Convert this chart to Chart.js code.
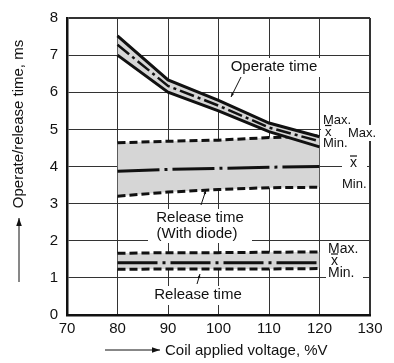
<!DOCTYPE html>
<html>
<head>
<meta charset="utf-8">
<script src="https://cdn.jsdelivr.net/npm/chart.js@4"></script>
<style>
  html, body { margin: 0; padding: 0; background: #fff; }
  #wrap { width: 394px; height: 363px; }
</style>
</head>
<body>
<div id="wrap"><canvas id="myChart"></canvas></div>
<script>
const voltage = [80, 90, 100, 110, 120];
// operate time
const opMax  = [7.52, 6.33, 5.78, 5.17, 4.80];
const opMean = [7.28, 6.17, 5.64, 5.05, 4.68];
const opMin  = [7.00, 6.00, 5.50, 4.94, 4.53];
// release time with diode
const dMax  = [4.64, 4.68, 4.71, 4.78, 4.82];
const dMean = [3.87, 3.92, 3.95, 3.98, 4.00];
const dMin  = [3.20, 3.31, 3.38, 3.43, 3.44];
// release time
const rMax  = [1.66, 1.68, 1.68, 1.69, 1.70];
const rMean = [1.41, 1.41, 1.41, 1.41, 1.41];
const rMin  = [1.23, 1.24, 1.24, 1.24, 1.25];

const xTicks = [70, 80, 90, 100, 110, 120, 130];
const yTicks = [0, 1, 2, 3, 4, 5, 6, 7, 8];

const FONT = '"Liberation Sans", Arial, Helvetica, sans-serif';
const BAND = '#d6d6d6';

function pts(arr) {
	return voltage.map((v, i) => ({ x: v, y: arr[i] }));
}

function line(arr, dash, width, fill) {
	return {
		data: pts(arr),
		borderColor: '#111',
		borderWidth: width,
		borderDash: dash,
		borderCapStyle: 'butt',
		pointRadius: 0,
		tension: 0,
		fill: fill === undefined ? false : { target: fill },
		backgroundColor: BAND
	};
}

const dashed = [8, 4];

const datasets = [
	line(opMax, [], 3),
	line(opMean, [15, 4, 3, 4], 2.5),
	line(opMin, [], 3, 0),
	line(dMax, dashed, 3),
	line(dMean, [42, 5, 3, 5], 3),
	line(dMin, dashed, 3, 3),
	line(rMax, dashed, 3),
	line(rMean, [40, 5, 3, 5], 3),
	line(rMin, dashed, 3, 6)
];

// text labels with white backing
function box(c, x0, y0, x1, y1) {
	c.fillStyle = '#fff';
	c.fillRect(x0, y0, x1 - x0, y1 - y0);
}
function txt(c, s, x, y, size, align) {
	c.font = size + 'px ' + FONT;
	c.fillStyle = '#111';
	c.textAlign = align || 'left';
	c.textBaseline = 'middle';
	c.fillText(s, x, y);
}
function xbar(c, x, y, size) {
	txt(c, 'x', x, y, size);
	const w = c.measureText('x').width;
	c.strokeStyle = '#111';
	c.lineWidth = 1.2;
	c.beginPath();
	c.moveTo(x, y - size * 0.5);
	c.lineTo(x + w, y - size * 0.5);
	c.stroke();
}
function arrow(c, x0, y0, x1, y1, head) {
	c.strokeStyle = '#111';
	c.fillStyle = '#111';
	c.lineWidth = 1;
	c.beginPath();
	c.moveTo(x0, y0);
	c.lineTo(x1, y1);
	c.stroke();
	const a = Math.atan2(y1 - y0, x1 - x0);
	const h = head || 6;
	c.beginPath();
	c.moveTo(x1, y1);
	c.lineTo(x1 - h * Math.cos(a) + h * 0.35 * Math.sin(a), y1 - h * Math.sin(a) - h * 0.35 * Math.cos(a));
	c.lineTo(x1 - h * Math.cos(a) - h * 0.35 * Math.sin(a), y1 - h * Math.sin(a) + h * 0.35 * Math.cos(a));
	c.closePath();
	c.fill();
}

const labels = {
	id: 'labels',
	afterDraw(chart) {
		const c = chart.ctx;
		c.save();
		// operate time
		box(c, 225, 58, 323, 77);
		txt(c, 'Operate time', 274, 67, 15, 'center');
		arrow(c, 241, 77, 231, 97, 4);
		// release with diode
		box(c, 148, 209, 252, 243);
		txt(c, 'Release time', 200, 218, 15, 'center');
		txt(c, '(With diode)', 197, 234, 15, 'center');
		arrow(c, 201, 205, 206, 190, 4);
		// release
		box(c, 148, 286, 250, 305);
		txt(c, 'Release time', 198, 295, 15, 'center');
		arrow(c, 197, 284, 200, 274, 4);
		// operate end markers
		box(c, 321, 112, 352, 150);
		txt(c, 'Max.', 323, 120, 13);
		xbar(c, 325, 132, 13);
		txt(c, 'Min.', 323, 143, 13);
		box(c, 346, 125, 376, 141);
		txt(c, 'Max.', 348, 133, 13);
		box(c, 342, 155, 367, 172);
		xbar(c, 350, 163, 14);
		txt(c, 'Min.', 342, 184, 13);
		// release end markers
		box(c, 326, 242, 363, 282);
		txt(c, 'Max.', 328, 249, 14);
		xbar(c, 331, 261, 14);
		txt(c, 'Min.', 328, 273, 14);
		// axis titles
		c.save();
		c.translate(19, 124);
		c.rotate(-Math.PI / 2);
		txt(c, 'Operate/release time, ms', 0, 0, 15, 'center');
		c.restore();
		arrow(c, 19, 282, 19, 218, 8);
		arrow(c, 105, 350, 160, 350, 8);
		txt(c, 'Coil applied voltage, %V', 165, 351, 15);
		c.restore();
	}
};

const ctx = document.getElementById('myChart');

new Chart(ctx, {
	type: 'line',
	data: { datasets: datasets },
	plugins: [labels],
	options: {
		responsive: true,
		maintainAspectRatio: false,
		animation: false,
		events: [],
		layout: { padding: { left: 0, top: 13, right: 24, bottom: 0 } },
		plugins: {
			legend: { display: false },
			tooltip: { enabled: false }
		},
		scales: {
			x: {
				type: 'linear',
				min: 70,
				max: 130,
				afterFit(s) { s.height = 48; },
				afterBuildTicks(s) { s.ticks = xTicks.map(v => ({ value: v })); },
				ticks: { padding: 5, color: '#111', font: { family: FONT, size: 15 } },
				grid: {
					drawTicks: false,
					color: '#333',
					lineWidth: (c) => (c.tick && c.tick.value === 130 ? 2 : 1)
				},
				border: { color: '#111', width: 2.5 }
			},
			y: {
				min: 0,
				max: 8,
				afterFit(s) { s.width = 67; },
				afterBuildTicks(s) { s.ticks = yTicks.map(v => ({ value: v })); },
				ticks: { padding: 9, color: '#111', font: { family: FONT, size: 15 } },
				grid: {
					drawTicks: false,
					color: '#333',
					lineWidth: (c) => (c.tick && c.tick.value === 8 ? 2 : 1)
				},
				border: { color: '#111', width: 2.5 }
			}
		}
	}
});
</script>
</body>
</html>
